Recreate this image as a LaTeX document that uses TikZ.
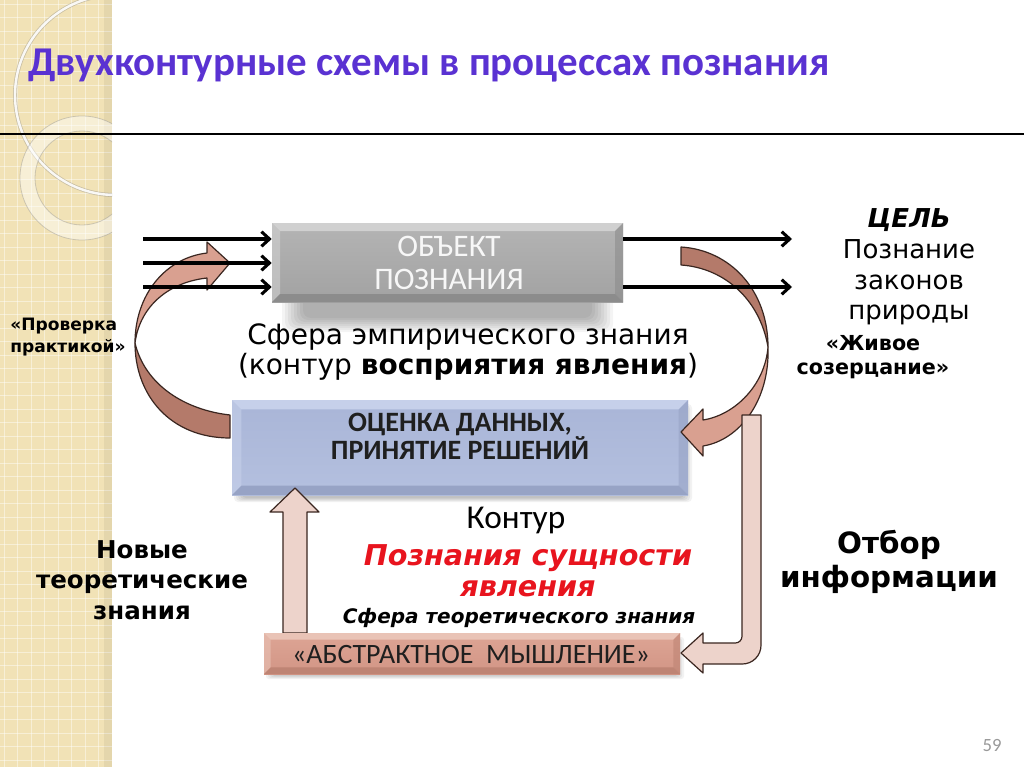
\documentclass[tikz,border=0pt]{standalone}
\usepackage{fontspec}
\setmainfont{Carlito}
\newfontfamily\dv{DejaVu Sans}[BoldFont={DejaVu Sans Bold}, ItalicFont={DejaVu Sans Oblique}, BoldItalicFont={DejaVu Sans Bold Oblique}]
\usetikzlibrary{arrows.meta,fit}
\definecolor{ttl}{HTML}{5A32D2}
\definecolor{stripc}{HTML}{F1E2B6}
\definecolor{salm}{HTML}{D9A090}
\definecolor{salmdk}{HTML}{B47A6A}
\definecolor{pinkl}{HTML}{EDD3CB}
\definecolor{arrline}{HTML}{3A2620}
\definecolor{redt}{HTML}{E8141E}
\definecolor{gtop}{HTML}{B4B4B4}
\definecolor{gbot}{HTML}{A2A2A2}
\definecolor{glt}{HTML}{D0D0D0}
\definecolor{gdk}{HTML}{8C8C8C}
\definecolor{btop}{HTML}{A9B5D7}
\definecolor{bbot}{HTML}{B4C0DF}
\definecolor{blt}{HTML}{C6D0EA}
\definecolor{bdk}{HTML}{97A3C5}
\definecolor{atop}{HTML}{DDA595}
\definecolor{abot}{HTML}{D29585}
\definecolor{alt}{HTML}{E9C3B6}
\definecolor{adk}{HTML}{BE8474}
\tikzset{
  lin/.style={line width=2.5pt, -{Straight Barb[length=6pt,width=11pt,line width=2.3pt]}},
  band/.style={draw=arrline, line width=0.9pt, line join=round},
  txt/.style={inner sep=0pt, align=center},
  bev/.style n args={5}{top color=#1, bottom color=#2, draw=none, inner sep=0pt,
    path picture={
      \path (path picture bounding box.north west) coordinate (pnw)
            (path picture bounding box.north east) coordinate (pne)
            (path picture bounding box.south west) coordinate (psw)
            (path picture bounding box.south east) coordinate (pse);
      \fill[#3] (pnw) -- (pne) -- ([shift={(-#5,-#5)}]pne) -- ([shift={(#5,-#5)}]pnw) -- cycle;
      \fill[#3, opacity=0.6] (pnw) -- (psw) -- ([shift={(#5,#5)}]psw) -- ([shift={(#5,-#5)}]pnw) -- cycle;
      \fill[#4, opacity=0.6] (pne) -- (pse) -- ([shift={(-#5,#5)}]pse) -- ([shift={(-#5,-#5)}]pne) -- cycle;
      \fill[#4] (psw) -- (pse) -- ([shift={(-#5,#5)}]pse) -- ([shift={(#5,#5)}]psw) -- cycle;
    }},
}
\begin{document}
\begin{tikzpicture}[x=0.75pt,y=-0.75pt]
\useasboundingbox (0,0) rectangle (1024,767);
\fill[white] (0,0) rectangle (1024,767);
% decorative strip
\begin{scope}
  \clip (0,0) rectangle (112,767);
  \fill[stripc] (0,0) rectangle (112,767);
  \foreach \i in {0,...,8} {\draw[white, opacity=0.45, line width=0.7pt] (\i*13.5+4,0) -- (\i*13.5+4,767);}
  \foreach \j in {0,...,57} {\draw[white, opacity=0.45, line width=0.7pt] (0,\j*13.5+4) -- (112,\j*13.5+4);}
  \fill[black, opacity=0.05] (104,0) rectangle (112,767);
  \draw[gray, opacity=0.35, line width=3pt] (115,95) circle [radius=100];
  \draw[white, opacity=0.9, line width=1.8pt] (115,95) circle [radius=100];
  \fill[white, opacity=0.45, even odd rule] (82,178) circle [radius=62] (82,178) circle [radius=47];
  \draw[gray, opacity=0.35, line width=0.6pt] (82,178) circle [radius=62] (82,178) circle [radius=47];
\end{scope}
\draw[line width=0.8pt] (0,134) -- (1024,134);
% title
\node[anchor=base west, inner sep=0pt, text=ttl, font=\bfseries\fontsize{30.7}{32}\selectfont] (title) at (28,75) {Двухконтурные схемы в процессах познания};
% shadows
\foreach \k in {0,...,7} {\fill[black, opacity=0.045, rounded corners=6pt] (282+3*\k,250+1.5*\k) rectangle (613-3*\k,332-2*\k);}
\foreach \k in {0,...,4} {\fill[black, opacity=0.05, rounded corners=3pt] (234+2*\k,404+\k) rectangle (692-2*\k,502-\k);}
\foreach \k in {0,...,3} {\fill[black, opacity=0.05, rounded corners=2pt] (266+2*\k,637+\k) rectangle (684-2*\k,679-\k);}
% object box
\node[bev={gtop}{gbot}{glt}{gdk}{6pt}, fit={(272,223) (623,302)}] (obj) {};
\node[txt, text=white!94!gray, font=\fontsize{23.5}{25}\selectfont] (objt) at (449,263) {ОБЪЕКТ\\ПОЗНАНИЯ};
% left curved arrow (behind blue box)
\fill[salmdk, band] (230,415) .. controls (185,410) and (145,385) .. (135,343)
   .. controls (135,395) and (170,438) .. (230,438) -- cycle;
\fill[salm, band] (135,343) .. controls (135,295) and (165,258) .. (207,253) -- (207,242) -- (230,263) -- (207,290) -- (207,278)
   .. controls (170,282) and (140,305) .. (135,343) -- cycle;
% evaluation box
\node[bev={btop}{bbot}{blt}{bdk}{7pt}, fit={(232,400) (688,495)}] (eval) {};
\node[txt, text=black!88, font=\bfseries\fontsize{21}{21}\selectfont] (evalt) at (460,436) {ОЦЕНКА ДАННЫХ,\\ПРИНЯТИЕ РЕШЕНИЙ};
% right curved arrow
\fill[salmdk, band] (681,247) .. controls (730,250) and (768,290) .. (768,347)
   .. controls (760,300) and (725,268) .. (681,265) -- cycle;
\fill[salm, band] (768,347) .. controls (770,400) and (740,440) .. (703,446) -- (703,456) -- (681,432) -- (703,409) -- (703,420)
   .. controls (735,415) and (765,385) .. (768,347) -- cycle;
% vertical bent arrow
\fill[pinkl, band] (742,415) -- (761,415) [rounded corners=14pt] -- (761,664) [sharp corners] -- (703,664) -- (703,673) -- (681,653) -- (703,633) -- (703,643) [rounded corners=5pt] -- (742,643) [sharp corners] -- cycle;
% up arrow
\fill[pinkl, band] (283,633) -- (283,512) -- (270,512) -- (295,488) -- (319,512) -- (307,512) -- (307,633) -- cycle;
% abstract box
\node[bev={atop}{abot}{alt}{adk}{5pt}, fit={(264,633) (680,674)}] (abst) {};
\node[txt, text=black!88, font=\fontsize{21}{21}\selectfont] (abstt) at (471,655) {«АБСТРАКТНОЕ\ \ МЫШЛЕНИЕ»};
% straight arrows
\coordinate (l1) at (143,239);
\coordinate (l2) at (143,263);
\coordinate (l3) at (143,287);
\coordinate (r1) at (792,239);
\coordinate (r2) at (792,287);
\draw[lin] (l1) -- (l1 -| obj.west);
\draw[lin] (l2) -- (l2 -| obj.west);
\draw[lin] (l3) -- (l3 -| obj.west);
\draw[lin] (r1 -| obj.east) -- (r1);
\draw[lin] (r2 -| obj.east) -- (r2);
% texts
\node[txt, font=\dv\fontsize{21}{23}\selectfont] (emp) at (468,352) {Сфера эмпирического знания\\(контур \textbf{восприятия явления})};
\node[txt, font=\dv\fontsize{19.5}{23}\selectfont] (goal) at (909,267) {\textbf{\textit{ЦЕЛЬ}}\\Познание\\законов\\природы};
\node[txt, font=\dv\bfseries\fontsize{15.5}{18.5}\selectfont] (live) at (873,357) {«Живое\\созерцание»};
\node[txt, align=left, anchor=west, font=\dv\bfseries\fontsize{12.8}{16}\selectfont] (check) at (10,337) {«Проверка\\практикой»};
\node[txt, font=\dv\bfseries\fontsize{22}{26}\selectfont] (sel) at (889,562) {Отбор\\информации};
\node[txt, font=\dv\bfseries\fontsize{18.4}{23}\selectfont] (newt) at (142,580) {Новые\\теоретические\\знания};
\node[txt, font=\fontsize{25}{26}\selectfont] (kont) at (516,520) {Контур};
\node[txt, text=redt, font=\dv\bfseries\itshape\fontsize{21.5}{23}\selectfont] (ess) at (528,571) {Познания сущности\\явления};
\node[txt, font=\dv\bfseries\itshape\fontsize{15}{16}\selectfont] (teor) at (519,618) {Сфера теоретического знания};
\node[txt, text=gray!80, font=\fontsize{14}{14}\selectfont] (pg) at (992,745) {59};
\end{tikzpicture}
\end{document}
